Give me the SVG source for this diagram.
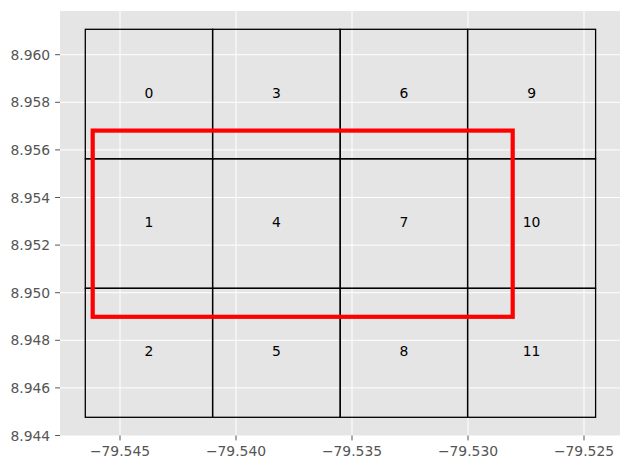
<svg xmlns="http://www.w3.org/2000/svg" width="630" height="470" viewBox="0 0 630 470">
<style>
.grid{stroke:#ffffff;stroke-width:1}
.tick{stroke:#555555;stroke-width:1}
.tl{font-family:"DejaVu Sans",sans-serif;font-size:13.9px;fill:#555555}
.cell{fill:none;stroke:#000000;stroke-width:1.3}
.lab{font-family:"DejaVu Sans",sans-serif;font-size:13.9px;fill:#000000;text-anchor:middle}
.sel{fill:none;stroke:#ff0000;stroke-width:4.2}
</style>
<rect x="0" y="0" width="630" height="470" fill="#ffffff"/>
<g id="axes">
<rect x="60" y="11" width="560" height="424.5" fill="#e5e5e5"/>
<g id="gridlines">
<line class="grid" x1="120" y1="11" x2="120" y2="435.5"/>
<line class="grid" x1="236" y1="11" x2="236" y2="435.5"/>
<line class="grid" x1="352" y1="11" x2="352" y2="435.5"/>
<line class="grid" x1="468" y1="11" x2="468" y2="435.5"/>
<line class="grid" x1="584" y1="11" x2="584" y2="435.5"/>
<line class="grid" x1="60" y1="387.9" x2="620" y2="387.9"/>
<line class="grid" x1="60" y1="340.3" x2="620" y2="340.3"/>
<line class="grid" x1="60" y1="292.7" x2="620" y2="292.7"/>
<line class="grid" x1="60" y1="245.1" x2="620" y2="245.1"/>
<line class="grid" x1="60" y1="197.5" x2="620" y2="197.5"/>
<line class="grid" x1="60" y1="149.9" x2="620" y2="149.9"/>
<line class="grid" x1="60" y1="102.3" x2="620" y2="102.3"/>
<line class="grid" x1="60" y1="54.7" x2="620" y2="54.7"/>
</g>
<g id="ticks">
<line class="tick" x1="120" y1="435.5" x2="120" y2="440.4"/>
<line class="tick" x1="236" y1="435.5" x2="236" y2="440.4"/>
<line class="tick" x1="352" y1="435.5" x2="352" y2="440.4"/>
<line class="tick" x1="468" y1="435.5" x2="468" y2="440.4"/>
<line class="tick" x1="584" y1="435.5" x2="584" y2="440.4"/>
<line class="tick" x1="55.1" y1="435.5" x2="60" y2="435.5"/>
<line class="tick" x1="55.1" y1="387.9" x2="60" y2="387.9"/>
<line class="tick" x1="55.1" y1="340.3" x2="60" y2="340.3"/>
<line class="tick" x1="55.1" y1="292.7" x2="60" y2="292.7"/>
<line class="tick" x1="55.1" y1="245.1" x2="60" y2="245.1"/>
<line class="tick" x1="55.1" y1="197.5" x2="60" y2="197.5"/>
<line class="tick" x1="55.1" y1="149.9" x2="60" y2="149.9"/>
<line class="tick" x1="55.1" y1="102.3" x2="60" y2="102.3"/>
<line class="tick" x1="55.1" y1="54.7" x2="60" y2="54.7"/>
</g>
<g id="ticklabels">
<text class="tl" x="120" y="456" text-anchor="middle">−79.545</text>
<text class="tl" x="236" y="456" text-anchor="middle">−79.540</text>
<text class="tl" x="352" y="456" text-anchor="middle">−79.535</text>
<text class="tl" x="468" y="456" text-anchor="middle">−79.530</text>
<text class="tl" x="584" y="456" text-anchor="middle">−79.525</text>
<text class="tl" x="50.2" y="440.5" text-anchor="end">8.944</text>
<text class="tl" x="50.2" y="392.9" text-anchor="end">8.946</text>
<text class="tl" x="50.2" y="345.3" text-anchor="end">8.948</text>
<text class="tl" x="50.2" y="297.7" text-anchor="end">8.950</text>
<text class="tl" x="50.2" y="250.1" text-anchor="end">8.952</text>
<text class="tl" x="50.2" y="202.5" text-anchor="end">8.954</text>
<text class="tl" x="50.2" y="154.9" text-anchor="end">8.956</text>
<text class="tl" x="50.2" y="107.3" text-anchor="end">8.958</text>
<text class="tl" x="50.2" y="59.7" text-anchor="end">8.960</text>
</g>
</g>
<g id="cells">
<g id="cell0"><rect class="cell" x="85.3" y="29.3" width="127.3" height="129.5"/><text class="lab" x="149" y="98">0</text></g>
<g id="cell1"><rect class="cell" x="85.3" y="158.8" width="127.3" height="129.5"/><text class="lab" x="149" y="227">1</text></g>
<g id="cell2"><rect class="cell" x="85.3" y="288.3" width="127.3" height="129"/><text class="lab" x="149" y="356">2</text></g>
<g id="cell3"><rect class="cell" x="212.6" y="29.3" width="127.6" height="129.5"/><text class="lab" x="276.4" y="98">3</text></g>
<g id="cell4"><rect class="cell" x="212.6" y="158.8" width="127.6" height="129.5"/><text class="lab" x="276.4" y="227">4</text></g>
<g id="cell5"><rect class="cell" x="212.6" y="288.3" width="127.6" height="129"/><text class="lab" x="276.4" y="356">5</text></g>
<g id="cell6"><rect class="cell" x="340.2" y="29.3" width="127.4" height="129.5"/><text class="lab" x="403.9" y="98">6</text></g>
<g id="cell7"><rect class="cell" x="340.2" y="158.8" width="127.4" height="129.5"/><text class="lab" x="403.9" y="227">7</text></g>
<g id="cell8"><rect class="cell" x="340.2" y="288.3" width="127.4" height="129"/><text class="lab" x="403.9" y="356">8</text></g>
<g id="cell9"><rect class="cell" x="467.6" y="29.3" width="128" height="129.5"/><text class="lab" x="531.6" y="98">9</text></g>
<g id="cell10"><rect class="cell" x="467.6" y="158.8" width="128" height="129.5"/><text class="lab" x="531.6" y="227">10</text></g>
<g id="cell11"><rect class="cell" x="467.6" y="288.3" width="128" height="129"/><text class="lab" x="531.6" y="356">11</text></g>
</g>
<g id="selection">
<rect class="sel" x="92.7" y="130.6" width="420" height="186.2"/>
</g>
</svg>
